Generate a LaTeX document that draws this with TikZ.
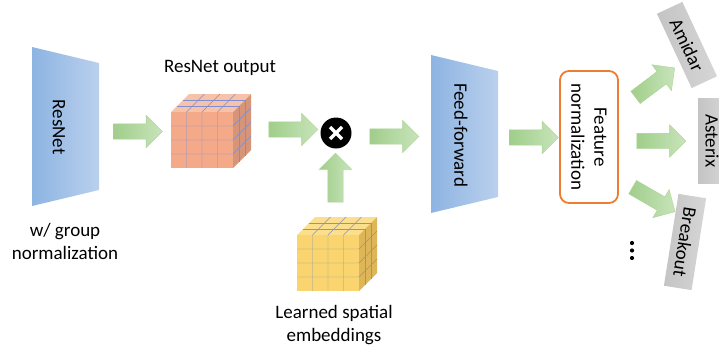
\documentclass[tikz,border=0pt]{standalone}
\usepackage{fontspec}
\setmainfont{Carlito}
\usepackage{tikz}
\usetikzlibrary{shapes,arrows,positioning,calc,arrows.meta}
\usepackage{xcolor}
\definecolor{trapdark}{RGB}{141, 180, 226}
\definecolor{traplight}{RGB}{186, 208, 237}
\definecolor{arrowdark}{RGB}{160, 206, 138}
\definecolor{arrowlight}{RGB}{200, 228, 186}
\definecolor{arrowline}{RGB}{170, 210, 150}
\definecolor{normorange}{RGB}{237, 125, 49}
\definecolor{boxgray}{RGB}{196, 196, 196}
\definecolor{boxlight}{RGB}{214, 214, 214}
\definecolor{salfront}{RGB}{244, 170, 136}
\definecolor{saltop}{RGB}{247, 194, 168}
\definecolor{salside}{RGB}{214, 148, 120}
\definecolor{salgrid}{RGB}{128, 142, 210}
\definecolor{yelfront}{RGB}{250, 212, 110}
\definecolor{yeltop}{RGB}{251, 223, 140}
\definecolor{yelside}{RGB}{222, 182, 88}
\definecolor{yelgrid}{RGB}{140, 150, 172}

% cube with a 4x4 front grid and 3 cells in depth
\newcommand{\gridcube}[6]{%
    \fill[#4] (#1,#2) -- ++(18,-18) -- ++(62,0) -- ++(-18,18) -- cycle;
    \fill[#5] (#1+62,#2) -- ++(18,-18) -- ++(0,56) -- ++(-18,18) -- cycle;
    \fill[#3] (#1,#2) rectangle ++(62,56);
    \foreach \i in {1,2,3} {
        \draw[#6, thin] (#1+15.5*\i,#2+56) -- ++(0,-56) -- ++(18,-18);
        \draw[#6, thin] (#1,#2+14*\i) -- ++(62,0) -- ++(18,-18);
    }
    \foreach \k in {1,2}
        \draw[#6, thin] (#1+6*\k,#2-6*\k) -- ++(62,0) -- ++(0,56);
}

\begin{document}
\begin{tikzpicture}[
    x=1pt, y=-1pt,
    font=\fontsize{19}{23}\selectfont,
    fatarrow/.style={single arrow, draw=arrowline, line width=0.4pt,
        left color=arrowdark, right color=arrowlight,
        minimum height=49pt, inner sep=0pt, inner ysep=7.5pt,
        single arrow head extend=8.5pt},
    gamebox/.style={rectangle, left color=boxgray, right color=boxlight,
        minimum width=#1, minimum height=28pt, inner sep=0pt},
    rot/.style={rotate=-90, align=center}
]
    \useasboundingbox (0,0) rectangle (719,345);
    \clip (0,0) rectangle (719,345);

    % ResNet trunk
    \shade[left color=trapdark, right color=traplight]
        (32,47) -- (99,63) -- (99,190) -- (32,206) -- cycle;
    \node[rot] (resnet) at (59,127) {ResNet};
    \node[align=center] (groupnorm) at (65,241) {w/ group\\normalization};

    % ResNet output and learned spatial embeddings
    \gridcube{171}{112}{salfront}{saltop}{salside}{salgrid}
    \node (resout) at (220,68) {ResNet output};
    \gridcube{297}{235}{yelfront}{yeltop}{yelside}{yelgrid}
    \node[align=center] (embed) at (334,325) {Learned spatial\\embeddings};

    % product
    \node[circle, fill=black, minimum size=31pt, inner sep=0pt,
        path picture={
            \draw[white, line width=3.2pt]
                ($(path picture bounding box.center)+(-6,-6)$) -- ++(12,12)
                ($(path picture bounding box.center)+(-6,6)$) -- ++(12,-12);
        }] (mult) at (336,133) {};

    % Feed-forward
    \shade[left color=trapdark, right color=traplight]
        (431,55) -- (498,71) -- (498,197) -- (431,213) -- cycle;
    \node[rot] (ffwd) at (461,135) {Feed-forward};

    % Feature normalization
    \node[rot, draw=normorange, line width=1.8pt, rounded corners=9pt,
        minimum width=132pt, minimum height=58pt, inner sep=0pt,
        fill=white] (featnorm) at (589,137) {Feature\\normalization};

    % Games
    \node[gamebox=82pt, rotate=-65] (amidar) at (687,45) {Amidar};
    \node[gamebox=85pt, rotate=-90] (asterix) at (712,141) {Asterix};
    \node[gamebox=93pt, rotate=-99] (breakout) at (685,242) {Breakout};
    \foreach \k in {0,1,2}
        \fill (632,243+7.5*\k) circle (2.1);

    % Block arrows
    \foreach \n/\x/\y/\r in {a1/134/131.5/0, a2/289.5/129.5/0, a3/390.5/136.5/0,
        a4/530/137.5/0, a5/335.5/181.5/90, a6/652/85/37,
        a7/657.5/141/0, a8/650.5/197.5/-30} {
        \node[fatarrow, rotate=\r] (\n) at (\x,\y) {};
    }
\end{tikzpicture}
\end{document}
